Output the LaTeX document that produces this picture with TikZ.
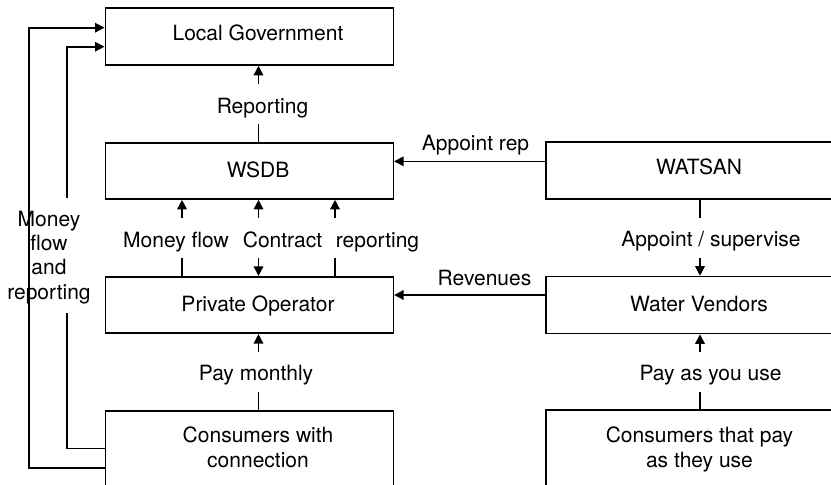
\documentclass[tikz,border=0pt]{standalone}
\usepackage{fontspec}
\setmainfont{TeX Gyre Heros}
\usetikzlibrary{arrows.meta}
\begin{document}
\begin{tikzpicture}[x=1pt,y=-1pt,line width=1.6pt,
  box/.style={draw,rectangle,minimum width=288pt,inner sep=0pt,line width=1.6pt},
  txt/.style={font=\fontsize{21}{24.8}\selectfont,align=center,inner sep=0pt},
  arr/.style={-{Triangle[width=9.5pt,length=9.5pt]}},
  darr/.style={{Triangle[width=9.5pt,length=9.5pt]}-{Triangle[width=9.5pt,length=9.5pt]}},
  gap/.style={fill=white,inner sep=0pt,minimum width=6pt,minimum height=40pt}]
\useasboundingbox (0,0) rectangle (831,485);
\clip (0,0) rectangle (831,485);
% boxes
\node[box,minimum height=57pt] (lg) at (249.3,36.5) {};
\node[box,minimum height=56pt] (wsdb) at (249.3,171) {};
\node[box,minimum height=56.5pt] (po) at (249.3,305) {};
\node[box,minimum height=84pt] (cwc) at (249.3,453) {};
\node[box,minimum height=57pt] (wat) at (690,170.5) {};
\node[box,minimum height=57pt] (wv) at (690,305) {};
\node[box,minimum height=84pt] (cpu) at (690,452) {};
% reference coordinates
\coordinate (x1) at (182,0);
\coordinate (x2) at (258.5,0);
\coordinate (x3) at (335,0);
\coordinate (x4) at (700,0);
\coordinate (ar) at (0,161.3);
\coordinate (rv) at (0,295);
\coordinate (ob) at (28.7,467.7);
\coordinate (ot) at (28.7,27.7);
\coordinate (ib) at (67,448.3);
\coordinate (ig1) at (67,313);
\coordinate (ig2) at (67,197.7);
\coordinate (it) at (67,46.7);
% connectors
\draw[arr] (x2 |- wsdb.north) -- node[gap]{} (x2 |- lg.south);
\draw[arr] (x1 |- po.north) -- node[gap]{} (x1 |- wsdb.south);
\draw[darr] (x2 |- po.north) -- node[gap]{} (x2 |- wsdb.south);
\draw[arr] (x3 |- po.north) -- node[gap]{} (x3 |- wsdb.south);
\draw[arr] (x2 |- cwc.north) -- node[gap]{} (x2 |- po.south);
\draw[arr] (wat.west |- ar) -- (wsdb.east |- ar);
\draw[arr] (wv.west |- rv) -- (po.east |- rv);
\draw[arr] (x4 |- wat.south) -- node[gap]{} (x4 |- wv.north);
\draw[arr] (x4 |- cpu.north) -- node[gap]{} (x4 |- wv.south);
\draw[arr] (cwc.west |- ob) -- (ob) -- (ot) -- (lg.west |- ot);
\draw (cwc.west |- ib) -- (ib) -- (ig1);
\draw[arr] (ig2) -- (it) -- (lg.west |- it);
% box texts
\node[txt,anchor=base] (lgt) at (258,40.7) {Local Government};
\node[txt,anchor=base] (wsdbt) at (258,177) {WSDB};
\node[txt,anchor=base] (pot) at (258,311) {Private Operator};
\node[txt] (cwct) at (258,447.4) {Consumers with\\connection};
\node[txt,anchor=base] (watt) at (699,174) {WATSAN};
\node[txt,anchor=base] (wvt) at (699,311) {Water Vendors};
\node[txt] (cput) at (699.5,449.4) {Consumers that pay\\as they use};
% connector labels
\node[txt,anchor=base] (l1) at (262.5,113) {Reporting};
\node[txt,anchor=base] (l2) at (176,247) {Money flow};
\node[txt,anchor=base] (l3) at (282.5,247) {Contract};
\node[txt,anchor=base] (l4) at (377.5,247) {reporting};
\node[txt,anchor=base] (l5) at (256,380) {Pay monthly};
\node[txt,anchor=base] (l6) at (475.5,150) {Appoint rep};
\node[txt,anchor=base] (l7) at (484.5,285) {Revenues};
\node[txt,anchor=base] (l8) at (711,246.7) {Appoint / supervise};
\node[txt,anchor=base] (l9) at (710.5,380) {Pay as you use};
\node[txt,font=\fontsize{21}{24.4}\selectfont] (l10) at (49,257.3) {Money\\flow\\and\\reporting};
\end{tikzpicture}
\end{document}
